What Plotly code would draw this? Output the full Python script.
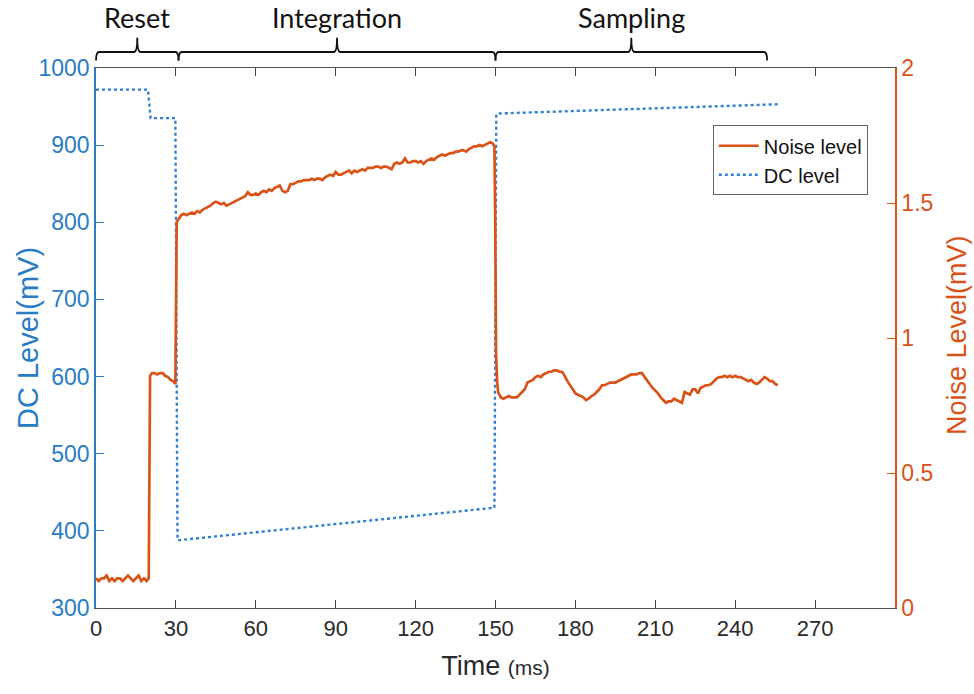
import plotly.graph_objects as go

# ---------------- data ----------------
noise_t = [0, 1, 2, 3, 4, 5, 6, 7, 8, 9, 10, 11, 12, 13, 14, 15, 16, 17, 18, 19, 19.8,
           20.3, 21, 22, 23, 24, 25, 26, 27, 28, 29, 29.8,
           30.3, 31, 32, 33, 34, 35, 36, 37, 38, 39, 40, 41, 42, 43, 44, 45, 46, 47, 48, 49,
           50, 51, 52, 53, 54, 55, 56, 57, 58, 59, 60, 61, 62, 63, 64, 65, 66, 67, 68, 69,
           70, 71, 72, 73, 74, 75, 76, 77, 78, 79, 80, 81, 82, 83, 84, 85, 86, 87, 88, 89,
           90, 91, 92, 93, 94, 95, 96, 97, 98, 99, 100, 101, 102, 103, 104, 105, 106, 107, 108, 109,
           110, 111, 112, 113, 114, 115, 116, 117, 118, 119, 120, 121, 122, 123, 124, 125, 126, 127, 128, 129,
           130, 131, 132, 133, 134, 135, 136, 137, 138, 139, 140, 141, 142, 143, 144, 145, 146, 147, 148, 149,
           149.6, 149.9, 150.2, 150.6, 151, 152, 153, 154, 155, 156, 157, 158, 159,
           160, 161, 162, 163, 164, 165, 166, 167, 168, 169, 170, 171, 172, 173, 174, 175, 176, 177, 178, 179,
           180, 181, 182, 183, 184, 185, 186, 187, 188, 189, 190, 191, 192, 193, 194, 195, 196, 197, 198, 199,
           200, 201, 202, 203, 204, 205, 206, 207, 208, 209, 210, 211, 212, 213, 214, 215, 216, 217, 218, 219,
           220, 221, 222, 223, 224, 225, 226, 227, 228, 229, 230, 231, 232, 233, 234, 235, 236, 237, 238, 239,
           240, 241, 242, 243, 244, 245, 246, 247, 248, 249, 250, 251, 252, 253, 254, 255, 256]
noise_v = [0.11, 0.10, 0.11, 0.11, 0.12, 0.10, 0.11, 0.10, 0.11, 0.11, 0.10, 0.11, 0.12, 0.11, 0.10, 0.11, 0.12, 0.10, 0.11, 0.10, 0.11,
           0.86, 0.87, 0.87, 0.865, 0.87, 0.87, 0.86, 0.855, 0.845, 0.84, 0.83,
           1.43, 1.44, 1.455, 1.46, 1.455, 1.46, 1.465, 1.46, 1.47, 1.465, 1.475, 1.48, 1.485, 1.49, 1.50, 1.505, 1.50, 1.495, 1.50, 1.49,
           1.495, 1.50, 1.505, 1.51, 1.515, 1.52, 1.525, 1.54, 1.53, 1.53, 1.535, 1.53, 1.54, 1.545, 1.54, 1.55, 1.545, 1.555, 1.56, 1.565,
           1.545, 1.54, 1.545, 1.57, 1.57, 1.575, 1.58, 1.58, 1.585, 1.585, 1.585, 1.59, 1.585, 1.59, 1.59, 1.585, 1.595, 1.60, 1.605, 1.60,
           1.615, 1.605, 1.605, 1.61, 1.615, 1.62, 1.61, 1.62, 1.615, 1.62, 1.625, 1.62, 1.63, 1.63, 1.63, 1.635, 1.635, 1.63, 1.635, 1.635,
           1.63, 1.625, 1.645, 1.65, 1.645, 1.65, 1.665, 1.65, 1.65, 1.655, 1.655, 1.65, 1.655, 1.645, 1.655, 1.66, 1.665, 1.66, 1.67, 1.675,
           1.68, 1.675, 1.68, 1.685, 1.685, 1.69, 1.69, 1.695, 1.695, 1.69, 1.70, 1.705, 1.71, 1.71, 1.715, 1.71, 1.715, 1.72, 1.725, 1.72,
           1.71, 1.45, 0.95, 0.84, 0.80, 0.78, 0.775, 0.78, 0.785, 0.78, 0.78, 0.78, 0.79,
           0.80, 0.81, 0.835, 0.84, 0.845, 0.855, 0.86, 0.855, 0.865, 0.87, 0.875, 0.875, 0.88, 0.88, 0.875, 0.875, 0.86, 0.84, 0.825, 0.81,
           0.795, 0.79, 0.785, 0.78, 0.77, 0.775, 0.785, 0.79, 0.80, 0.81, 0.825, 0.825, 0.83, 0.835, 0.835, 0.835, 0.84, 0.845, 0.85, 0.855,
           0.86, 0.865, 0.865, 0.865, 0.87, 0.87, 0.855, 0.84, 0.825, 0.815, 0.805, 0.795, 0.78, 0.77, 0.76, 0.765, 0.765, 0.775, 0.77, 0.765,
           0.76, 0.80, 0.795, 0.79, 0.81, 0.81, 0.795, 0.815, 0.82, 0.825, 0.825, 0.83, 0.84, 0.85, 0.855, 0.855, 0.86, 0.855, 0.86, 0.855,
           0.86, 0.855, 0.855, 0.85, 0.845, 0.84, 0.845, 0.835, 0.83, 0.835, 0.845, 0.855, 0.85, 0.84, 0.84, 0.83, 0.825]

dc_t = [0, 19.5, 20.5, 29.8, 30.6, 31.5, 149.6, 150.3, 151, 256]
dc_v = [972, 972, 935, 935, 388, 388, 430, 940, 941, 953]

x_ticks = [0, 30, 60, 90, 120, 150, 180, 210, 240, 270]
dc_ticks = [300, 400, 500, 600, 700, 800, 900, 1000]
noise_ticks = [0, 0.5, 1, 1.5, 2]
noise_tick_text = ["0", "0.5", "1", "1.5", "2"]

phases = ["Reset", "Integration", "Sampling"]
phase_bounds = [(0, 31), (31, 150), (150, 252)]

X_RANGE = [0, 300]

# ---------------- styling ----------------
BLUE_AX = "#2a7cc4"
BLUE_LN = "#2f80d0"
ORANGE = "#D95319"
TXT = "#2a2a2a"
AX_FONT = "Liberation Sans, Arial, sans-serif"
CAL_FONT = "Lato, Open Sans, sans-serif"

fig = go.Figure()
fig.add_trace(go.Scatter(x=noise_t, y=noise_v, name="Noise level", mode="lines",
                         line=dict(color=ORANGE, width=2.7), yaxis="y2"))
fig.add_trace(go.Scatter(x=dc_t, y=dc_v, name="DC level", mode="lines",
                         line=dict(color=BLUE_LN, width=2.4, dash="dot"), yaxis="y"))

fig.update_layout(
    width=974, height=694,
    margin=dict(l=96, r=79, t=68, b=86, autoexpand=False),
    paper_bgcolor="white", plot_bgcolor="white",
    font=dict(family=AX_FONT, color=TXT),
    xaxis=dict(range=X_RANGE, tickvals=x_ticks, ticks="inside", ticklen=8, tickcolor="#444",
               showline=True, linecolor="#555", linewidth=1.2, mirror="ticks",
               showgrid=False, zeroline=False, automargin=False,
               tickfont=dict(size=22, color=TXT, family=AX_FONT),
               title=dict(text="Time <span style='font-size:21px'>(ms)</span>",
                          font=dict(size=27, color=TXT, family=AX_FONT), standoff=16)),
    yaxis=dict(range=[300, 1000], tickvals=dc_ticks, ticks="inside", ticklen=8, tickcolor=BLUE_AX,
               showline=True, linecolor=BLUE_AX, linewidth=1.5, showgrid=False, zeroline=False,
               automargin=False,
               tickfont=dict(size=23, color=BLUE_AX, family=AX_FONT)),
    yaxis2=dict(range=[0, 2], tickvals=noise_ticks, ticktext=noise_tick_text, overlaying="y", side="right",
                ticks="inside", ticklen=8, tickcolor=ORANGE, automargin=False,
                showline=True, linecolor=ORANGE, linewidth=1.5, showgrid=False, zeroline=False,
                tickfont=dict(size=23, color=ORANGE, family=AX_FONT)),
    legend=dict(x=0.966, y=0.894, xanchor="right", yanchor="top",
                bgcolor="white", bordercolor="#666", borderwidth=1,
                font=dict(size=20, color="#111", family=AX_FONT),
                tracegroupgap=0, itemwidth=40),
    showlegend=True,
)

# axis titles placed like the MATLAB layout (close to the 3-digit tick labels)
fig.add_annotation(x=0, y=0.5, xref="paper", yref="paper", text="DC Level(mV)", textangle=-90,
                   showarrow=False, xanchor="center", yanchor="middle", xshift=-68,
                   font=dict(size=29, color=BLUE_AX, family=AX_FONT))
fig.add_annotation(x=1, y=0.5, xref="paper", yref="paper", text="Noise Level(mV)", textangle=-90,
                   showarrow=False, xanchor="center", yanchor="middle", xshift=62, yshift=3,
                   font=dict(size=27, color=ORANGE, family=AX_FONT))

# ---------------- phase braces ----------------
span = X_RANGE[1] - X_RANGE[0]
y_end, y_line, y_tip, y_lab = 1.014, 1.0296, 1.056, 1.0926
d = 0.004
for name, (a, b) in zip(phases, phase_bounds):
    pa = (a - X_RANGE[0]) / span
    pb = (b - X_RANGE[0]) / span
    pm = (pa + pb) / 2
    path = (f"M {pa},{y_end} Q {pa},{y_line} {pa + d},{y_line} "
            f"L {pm - d},{y_line} Q {pm},{y_line} {pm},{y_tip} "
            f"M {pm},{y_tip} Q {pm},{y_line} {pm + d},{y_line} "
            f"L {pb - d},{y_line} Q {pb},{y_line} {pb},{y_end}")
    fig.add_shape(type="path", path=path, xref="paper", yref="paper",
                  line=dict(color="#111", width=1.8))
    fig.add_annotation(x=pm, y=y_lab, xref="paper", yref="paper", text=name, showarrow=False,
                       xanchor="center", yanchor="middle",
                       font=dict(size=27, color="#111", family=CAL_FONT))

fig.write_html("out.html", config={"displayModeBar": False},
               post_script="document.body.style.margin='0px';")
